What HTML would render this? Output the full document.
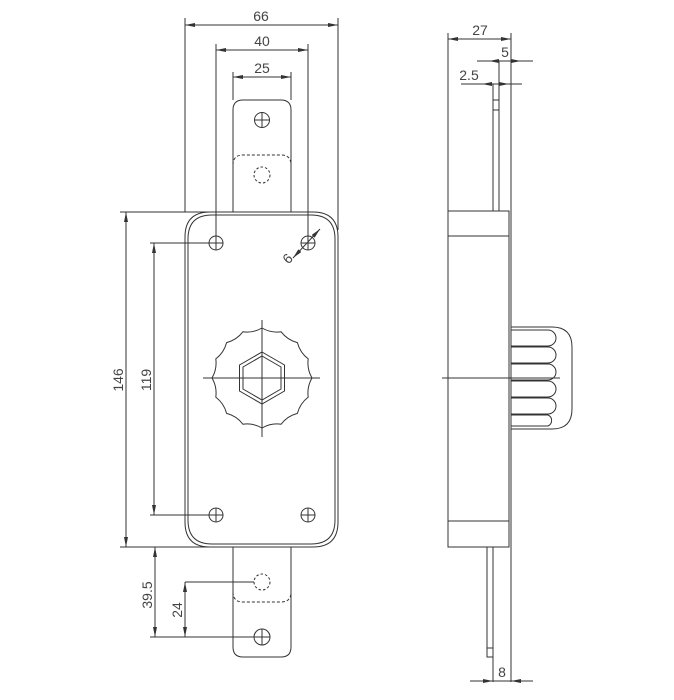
<!DOCTYPE html>
<html><head><meta charset="utf-8"><style>
html,body{margin:0;padding:0;background:#fff;}
svg{display:block}
text{font-family:"Liberation Sans","DejaVu Sans",sans-serif;font-size:14px;fill:#444;}
</style></head><body>
<svg width="674" height="700" viewBox="0 0 674 700" xmlns="http://www.w3.org/2000/svg">
<defs>
<marker id="a" viewBox="0 0 10 4" refX="10" refY="2" markerWidth="10" markerHeight="4" orient="auto-start-reverse" markerUnits="userSpaceOnUse"><path d="M0,0 L10,2 L0,4z" fill="#333"/></marker>
</defs>
<g stroke="#333" stroke-width="1" fill="none">
<line x1="185" y1="18" x2="185" y2="212"/><line x1="338" y1="18" x2="338" y2="230"/>
<line x1="185" y1="25" x2="338" y2="25" marker-start="url(#a)" marker-end="url(#a)"/>
<line x1="216" y1="44" x2="216" y2="243"/><line x1="308" y1="44" x2="308" y2="243"/>
<line x1="216" y1="50" x2="308" y2="50" marker-start="url(#a)" marker-end="url(#a)"/>
<line x1="233" y1="72" x2="233" y2="100"/><line x1="291" y1="72" x2="291" y2="100"/>
<line x1="233" y1="77" x2="291" y2="77" marker-start="url(#a)" marker-end="url(#a)"/>
<path d="M233,212 V110 Q233,100 243,100 H281 Q291,100 291,110 V212"/>
<circle cx="262" cy="120" r="7.5"/><line x1="254.5" y1="120" x2="269.5" y2="120"/><line x1="262" y1="112.5" x2="262" y2="127.5"/>
<path d="M233,165 Q233,155 243,155 H281 Q291,155 291,165" stroke-dasharray="3,2"/>
<circle cx="262" cy="175" r="8" stroke-dasharray="2.5,2"/>
<path d="M210,212 H313 Q338,212 338,237 V522 Q338,547 313,547 H210 Q185,547 185,522 V237 Q185,212 210,212Z"/>
<path d="M212,215 H311 Q335,215 335,239 V520 Q335,544 311,544 H212 Q188,544 188,520 V239 Q188,215 212,215Z"/>
<g>
<circle cx="216" cy="243" r="7"/><path d="M209,243H223M216,236V250"/>
<circle cx="308" cy="243" r="7"/><path d="M301,243H315M308,236V250"/>
<circle cx="216" cy="515" r="7"/><path d="M209,515H223M216,508V522"/>
<circle cx="308" cy="515" r="7"/><path d="M301,515H315M308,508V522"/>
</g>
<line x1="293" y1="258" x2="320" y2="229" marker-start="url(#a)" marker-end="url(#a)"/>
<path d="M312,378 A30,30 0 0 0 308.2,397.1 A30,30 0 0 0 297.4,413.4 A30,30 0 0 0 281.1,424.2 A30,30 0 0 0 262,428 A30,30 0 0 0 242.9,424.2 A30,30 0 0 0 226.6,413.4 A30,30 0 0 0 215.8,397.1 A30,30 0 0 0 212,378 A30,30 0 0 0 215.8,358.9 A30,30 0 0 0 226.6,342.6 A30,30 0 0 0 242.9,331.8 A30,30 0 0 0 262,328 A30,30 0 0 0 281.1,331.8 A30,30 0 0 0 297.4,342.6 A30,30 0 0 0 308.2,358.9 A30,30 0 0 0 312,378Z"/>
<path d="M262,352 L284.5,365 L284.5,391 L262,404 L239.5,391 L239.5,365Z"/>
<path d="M262,356 L281,367 L281,389 L262,400 L243,389 L243,367Z"/>
<line x1="203" y1="378" x2="320" y2="378"/><line x1="262" y1="320" x2="262" y2="437"/>
<line x1="120" y1="212" x2="210" y2="212"/><line x1="120" y1="547" x2="210" y2="547"/>
<line x1="126" y1="212" x2="126" y2="547" marker-start="url(#a)" marker-end="url(#a)"/>
<line x1="150" y1="243" x2="216" y2="243"/><line x1="150" y1="515" x2="216" y2="515"/>
<line x1="154" y1="243" x2="154" y2="515" marker-start="url(#a)" marker-end="url(#a)"/>
<path d="M233,547 V647 Q233,657 243,657 H281 Q291,657 291,647 V547"/>
<path d="M233,592 Q233,602 243,602 H281 Q291,602 291,592" stroke-dasharray="3,2"/>
<circle cx="262" cy="582" r="8" stroke-dasharray="2.5,2"/>
<circle cx="262" cy="637" r="8"/><path d="M254,637H270M262,629V645"/>
<line x1="185" y1="582" x2="254" y2="582"/><line x1="150" y1="637" x2="254" y2="637"/>
<line x1="155" y1="547" x2="155" y2="637" marker-start="url(#a)" marker-end="url(#a)"/>
<line x1="185" y1="582" x2="185" y2="637" marker-start="url(#a)" marker-end="url(#a)"/>
<line x1="448" y1="33" x2="448" y2="211"/>
<line x1="448" y1="39" x2="511" y2="39" marker-start="url(#a)" marker-end="url(#a)"/>
<line x1="511" y1="33" x2="511" y2="682"/>
<line x1="477" y1="61" x2="533" y2="61"/>
<line x1="489" y1="61" x2="499" y2="61" marker-start="url(#a)"/>
<line x1="521" y1="61" x2="511" y2="61" marker-start="url(#a)"/>
<line x1="461" y1="84" x2="522" y2="84"/>
<line x1="482" y1="84" x2="493" y2="84" marker-start="url(#a)"/>
<line x1="509" y1="84" x2="499" y2="84" marker-start="url(#a)"/>
<line x1="499" y1="61" x2="499" y2="211"/>
<line x1="493" y1="84" x2="493" y2="211"/>
<path d="M493,100H499M493,110H499"/>
<rect x="448" y="211" width="61" height="336"/>
<line x1="448" y1="236" x2="509" y2="236"/><line x1="448" y1="521" x2="509" y2="521"/>
<path d="M511,327 H552 Q572,327 572,347 V409 Q572,429 552,429 H511"/>
<path d="M511,330 H548 a8,8 0 0 1 0,16 H511 M511,347 H548 a8,8 0 0 1 0,16 H511 M511,364 H548 a8,8 0 0 1 0,16 H511 M511,381 H548 a8,8 0 0 1 0,16 H511 M511,398 H548 a8,8 0 0 1 0,16 H511 M511,415 H548 a6,6 0 0 1 0,11 H511"/>
<line x1="442" y1="378" x2="560" y2="378"/>
<path d="M487,547 V657 H493 V547 M487,648 H493"/>
<line x1="493" y1="657" x2="493" y2="682"/>
<line x1="470" y1="681" x2="533" y2="681"/>
<line x1="481" y1="681" x2="493" y2="681" marker-end="url(#a)"/>
<line x1="523" y1="681" x2="511" y2="681" marker-end="url(#a)"/>
</g>
<text x="261" y="21" text-anchor="middle">66</text>
<text x="262" y="46" text-anchor="middle">40</text>
<text x="262" y="73" text-anchor="middle">25</text>
<text x="291" y="262" text-anchor="middle" transform="rotate(-45 291 262)">6</text>
<text transform="translate(123,380) rotate(-90)" text-anchor="middle">146</text>
<text transform="translate(151,380) rotate(-90)" text-anchor="middle">119</text>
<text transform="translate(152,595) rotate(-90)" text-anchor="middle">39.5</text>
<text transform="translate(182,610) rotate(-90)" text-anchor="middle">24</text>
<text x="480" y="35" text-anchor="middle">27</text>
<text x="505" y="57" text-anchor="middle">5</text>
<text x="469" y="80" text-anchor="middle">2.5</text>
<text x="502" y="677" text-anchor="middle">8</text>
</svg>
</body></html>
